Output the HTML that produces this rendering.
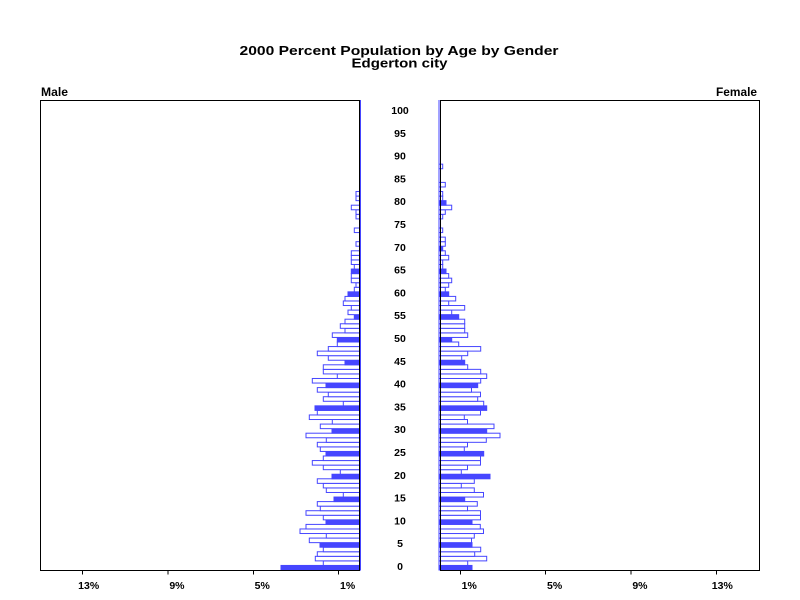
<!DOCTYPE html>
<html><head><meta charset="utf-8"><style>
html,body{margin:0;padding:0;background:#fff;width:800px;height:600px;overflow:hidden}
svg{display:block}
text{font-family:"Liberation Sans",Arial,sans-serif;font-weight:bold;fill:#000}
.o{fill:#fff;stroke:#4646ff;stroke-width:1}
.f{fill:#4646ff;stroke:#4646ff;stroke-width:1}
</style></head><body>
<svg width="800" height="600" viewBox="0 0 800 600" xmlns="http://www.w3.org/2000/svg">
<rect width="800" height="600" fill="#fff"/>
<text x="399" y="55" font-size="13" text-anchor="middle" textLength="319" lengthAdjust="spacingAndGlyphs">2000 Percent Population by Age by Gender</text>
<text x="399.5" y="67.5" font-size="13" text-anchor="middle" textLength="96" lengthAdjust="spacingAndGlyphs">Edgerton city</text>
<text x="41" y="96" font-size="11.5" textLength="27" lengthAdjust="spacingAndGlyphs">Male</text>
<text x="757" y="96" font-size="11.5" text-anchor="end" textLength="41" lengthAdjust="spacingAndGlyphs">Female</text>

<!-- Male bars -->
<g>
<rect class="f" x="281" y="565.44" width="79.5" height="4.56"/>
<rect class="o" x="323.3" y="560.88" width="37.2" height="4.56"/>
<rect class="o" x="315.3" y="556.32" width="45.2" height="4.56"/>
<rect class="o" x="317.3" y="551.76" width="43.2" height="4.56"/>
<rect class="o" x="323.3" y="547.20" width="37.2" height="4.56"/>
<rect class="f" x="320" y="542.64" width="40.5" height="4.56"/>
<rect class="o" x="309.3" y="538.08" width="51.2" height="4.56"/>
<rect class="o" x="326.3" y="533.52" width="34.2" height="4.56"/>
<rect class="o" x="300" y="528.96" width="60.5" height="4.56"/>
<rect class="o" x="306" y="524.40" width="54.5" height="4.56"/>
<rect class="f" x="326" y="519.84" width="34.5" height="4.56"/>
<rect class="o" x="323.3" y="515.28" width="37.2" height="4.56"/>
<rect class="o" x="306" y="510.72" width="54.5" height="4.56"/>
<rect class="o" x="320.3" y="506.16" width="40.2" height="4.56"/>
<rect class="o" x="317.3" y="501.60" width="43.2" height="4.56"/>
<rect class="f" x="334" y="497.04" width="26.5" height="4.56"/>
<rect class="o" x="343.3" y="492.48" width="17.2" height="4.56"/>
<rect class="o" x="326.3" y="487.92" width="34.2" height="4.56"/>
<rect class="o" x="323.3" y="483.36" width="37.2" height="4.56"/>
<rect class="o" x="317.3" y="478.80" width="43.2" height="4.56"/>
<rect class="f" x="332" y="474.24" width="28.5" height="4.56"/>
<rect class="o" x="340.3" y="469.68" width="20.2" height="4.56"/>
<rect class="o" x="323.3" y="465.12" width="37.2" height="4.56"/>
<rect class="o" x="312.3" y="460.56" width="48.2" height="4.56"/>
<rect class="o" x="323.3" y="456.00" width="37.2" height="4.56"/>
<rect class="f" x="326" y="451.44" width="34.5" height="4.56"/>
<rect class="o" x="320.3" y="446.88" width="40.2" height="4.56"/>
<rect class="o" x="317.3" y="442.32" width="43.2" height="4.56"/>
<rect class="o" x="326.3" y="437.76" width="34.2" height="4.56"/>
<rect class="o" x="306" y="433.20" width="54.5" height="4.56"/>
<rect class="f" x="332" y="428.64" width="28.5" height="4.56"/>
<rect class="o" x="320.3" y="424.08" width="40.2" height="4.56"/>
<rect class="o" x="332.3" y="419.52" width="28.2" height="4.56"/>
<rect class="o" x="309.3" y="414.96" width="51.2" height="4.56"/>
<rect class="o" x="317.3" y="410.40" width="43.2" height="4.56"/>
<rect class="f" x="315" y="405.84" width="45.5" height="4.56"/>
<rect class="o" x="343.3" y="401.28" width="17.2" height="4.56"/>
<rect class="o" x="323.3" y="396.72" width="37.2" height="4.56"/>
<rect class="o" x="328.3" y="392.16" width="32.2" height="4.56"/>
<rect class="o" x="317.3" y="387.60" width="43.2" height="4.56"/>
<rect class="f" x="326" y="383.04" width="34.5" height="4.56"/>
<rect class="o" x="312.3" y="378.48" width="48.2" height="4.56"/>
<rect class="o" x="337.3" y="373.92" width="23.2" height="4.56"/>
<rect class="o" x="323.3" y="369.36" width="37.2" height="4.56"/>
<rect class="o" x="323.3" y="364.80" width="37.2" height="4.56"/>
<rect class="f" x="345" y="360.24" width="15.5" height="4.56"/>
<rect class="o" x="328.3" y="355.68" width="32.2" height="4.56"/>
<rect class="o" x="317.3" y="351.12" width="43.2" height="4.56"/>
<rect class="o" x="328.3" y="346.56" width="32.2" height="4.56"/>
<rect class="o" x="337.3" y="342.00" width="23.2" height="4.56"/>
<rect class="f" x="337.3" y="337.44" width="23.2" height="4.56"/>
<rect class="o" x="332.3" y="332.88" width="28.2" height="4.56"/>
<rect class="o" x="345" y="328.32" width="15.5" height="4.56"/>
<rect class="o" x="340.3" y="323.76" width="20.2" height="4.56"/>
<rect class="o" x="345" y="319.20" width="15.5" height="4.56"/>
<rect class="f" x="354.3" y="314.64" width="6.2" height="4.56"/>
<rect class="o" x="348" y="310.08" width="12.5" height="4.56"/>
<rect class="o" x="351.3" y="305.52" width="9.2" height="4.56"/>
<rect class="o" x="343.3" y="300.96" width="17.2" height="4.56"/>
<rect class="o" x="345" y="296.40" width="15.5" height="4.56"/>
<rect class="f" x="348" y="291.84" width="12.5" height="4.56"/>
<rect class="o" x="354.3" y="287.28" width="6.2" height="4.56"/>
<rect class="o" x="356" y="282.72" width="4.5" height="4.56"/>
<rect class="o" x="351.3" y="278.16" width="9.2" height="4.56"/>
<rect class="o" x="351.3" y="273.60" width="9.2" height="4.56"/>
<rect class="f" x="351.3" y="269.04" width="9.2" height="4.56"/>
<rect class="o" x="354.3" y="264.48" width="6.2" height="4.56"/>
<rect class="o" x="351.3" y="259.92" width="9.2" height="4.56"/>
<rect class="o" x="351.3" y="255.36" width="9.2" height="4.56"/>
<rect class="o" x="351.3" y="250.80" width="9.2" height="4.56"/>
<rect class="o" x="356" y="241.68" width="4.5" height="4.56"/>
<rect class="o" x="354.3" y="228.00" width="6.2" height="4.56"/>
<rect class="o" x="356" y="214.32" width="4.5" height="4.56"/>
<rect class="o" x="356" y="209.76" width="4.5" height="4.56"/>
<rect class="o" x="351.3" y="205.20" width="9.2" height="4.56"/>
<rect class="o" x="356" y="196.08" width="4.5" height="4.56"/>
<rect class="o" x="356" y="191.52" width="4.5" height="4.56"/>
</g>

<!-- Female bars -->
<g>
<rect class="f" x="439" y="565.44" width="33" height="4.56"/>
<rect class="o" x="439" y="560.88" width="28.7" height="4.56"/>
<rect class="o" x="439" y="556.32" width="47.7" height="4.56"/>
<rect class="o" x="439" y="551.76" width="35.7" height="4.56"/>
<rect class="o" x="439" y="547.20" width="41.7" height="4.56"/>
<rect class="f" x="439" y="542.64" width="33" height="4.56"/>
<rect class="o" x="439" y="538.08" width="32.5" height="4.56"/>
<rect class="o" x="439" y="533.52" width="35.3" height="4.56"/>
<rect class="o" x="439" y="528.96" width="44.5" height="4.56"/>
<rect class="o" x="439" y="524.40" width="41.3" height="4.56"/>
<rect class="f" x="439" y="519.84" width="33" height="4.56"/>
<rect class="o" x="439" y="515.28" width="41.5" height="4.56"/>
<rect class="o" x="439" y="510.72" width="41.5" height="4.56"/>
<rect class="o" x="439" y="506.16" width="28.5" height="4.56"/>
<rect class="o" x="439" y="501.60" width="38.3" height="4.56"/>
<rect class="f" x="439" y="497.04" width="25.7" height="4.56"/>
<rect class="o" x="439" y="492.48" width="44.5" height="4.56"/>
<rect class="o" x="439" y="487.92" width="35.3" height="4.56"/>
<rect class="o" x="439" y="483.36" width="22.3" height="4.56"/>
<rect class="o" x="439" y="478.80" width="35.3" height="4.56"/>
<rect class="f" x="439" y="474.24" width="51" height="4.56"/>
<rect class="o" x="439" y="469.68" width="22.3" height="4.56"/>
<rect class="o" x="439" y="465.12" width="28.5" height="4.56"/>
<rect class="o" x="439" y="460.56" width="41.5" height="4.56"/>
<rect class="o" x="439" y="456.00" width="41.5" height="4.56"/>
<rect class="f" x="439" y="451.44" width="44.7" height="4.56"/>
<rect class="o" x="439" y="446.88" width="25.3" height="4.56"/>
<rect class="o" x="439" y="442.32" width="28.5" height="4.56"/>
<rect class="o" x="439" y="437.76" width="47.3" height="4.56"/>
<rect class="o" x="439" y="433.20" width="61" height="4.56"/>
<rect class="f" x="439" y="428.64" width="47.7" height="4.56"/>
<rect class="o" x="439" y="424.08" width="55" height="4.56"/>
<rect class="o" x="439" y="419.52" width="28.5" height="4.56"/>
<rect class="o" x="439" y="414.96" width="25.3" height="4.56"/>
<rect class="o" x="439" y="410.40" width="41.5" height="4.56"/>
<rect class="f" x="439" y="405.84" width="47.7" height="4.56"/>
<rect class="o" x="439" y="401.28" width="44.7" height="4.56"/>
<rect class="o" x="439" y="396.72" width="38.7" height="4.56"/>
<rect class="o" x="439" y="392.16" width="41.5" height="4.56"/>
<rect class="o" x="439" y="387.60" width="32.5" height="4.56"/>
<rect class="f" x="439" y="383.04" width="38.7" height="4.56"/>
<rect class="o" x="439" y="378.48" width="41.7" height="4.56"/>
<rect class="o" x="439" y="373.92" width="47.7" height="4.56"/>
<rect class="o" x="439" y="369.36" width="41.7" height="4.56"/>
<rect class="o" x="439" y="364.80" width="28.7" height="4.56"/>
<rect class="f" x="439" y="360.24" width="25.7" height="4.56"/>
<rect class="o" x="439" y="355.68" width="22.7" height="4.56"/>
<rect class="o" x="439" y="351.12" width="28.7" height="4.56"/>
<rect class="o" x="439" y="346.56" width="41.7" height="4.56"/>
<rect class="o" x="439" y="342.00" width="19.7" height="4.56"/>
<rect class="f" x="439" y="337.44" width="12.7" height="4.56"/>
<rect class="o" x="439" y="332.88" width="28.7" height="4.56"/>
<rect class="o" x="439" y="328.32" width="25.7" height="4.56"/>
<rect class="o" x="439" y="323.76" width="25.7" height="4.56"/>
<rect class="o" x="439" y="319.20" width="25.7" height="4.56"/>
<rect class="f" x="439" y="314.64" width="19.7" height="4.56"/>
<rect class="o" x="439" y="310.08" width="12.7" height="4.56"/>
<rect class="o" x="439" y="305.52" width="25.7" height="4.56"/>
<rect class="o" x="439" y="300.96" width="9.7" height="4.56"/>
<rect class="o" x="439" y="296.40" width="16.7" height="4.56"/>
<rect class="f" x="439" y="291.84" width="9.7" height="4.56"/>
<rect class="o" x="439" y="287.28" width="6.3" height="4.56"/>
<rect class="o" x="439" y="282.72" width="9.7" height="4.56"/>
<rect class="o" x="439" y="278.16" width="12.7" height="4.56"/>
<rect class="o" x="439" y="273.60" width="9.7" height="4.56"/>
<rect class="f" x="439" y="269.04" width="7" height="4.56"/>
<rect class="o" x="439" y="264.48" width="3.7" height="4.56"/>
<rect class="o" x="439" y="259.92" width="3.7" height="4.56"/>
<rect class="o" x="439" y="255.36" width="9.7" height="4.56"/>
<rect class="o" x="439" y="250.80" width="6.3" height="4.56"/>
<rect class="f" x="439" y="246.24" width="3.7" height="4.56"/>
<rect class="o" x="439" y="241.68" width="6.3" height="4.56"/>
<rect class="o" x="439" y="237.12" width="6.3" height="4.56"/>
<rect class="o" x="439" y="228.00" width="3.7" height="4.56"/>
<rect class="o" x="439" y="214.32" width="3.7" height="4.56"/>
<rect class="o" x="439" y="209.76" width="6.3" height="4.56"/>
<rect class="o" x="439" y="205.20" width="12.7" height="4.56"/>
<rect class="f" x="439" y="200.64" width="7" height="4.56"/>
<rect class="o" x="439" y="196.08" width="3.7" height="4.56"/>
<rect class="o" x="439" y="191.52" width="3.7" height="4.56"/>
<rect class="o" x="439" y="182.40" width="6.3" height="4.56"/>
<rect class="o" x="439" y="164.16" width="3.7" height="4.56"/>
</g>

<!-- zero lines (zero-width bars) -->
<line x1="360.5" y1="100" x2="360.5" y2="570.5" stroke="#4646ff" stroke-width="1"/>
<line x1="439" y1="100" x2="439" y2="570.5" stroke="#4646ff" stroke-width="1"/>

<!-- frames -->
<g fill="none" stroke="#000" stroke-width="1" shape-rendering="crispEdges">
<rect x="40.5" y="100.5" width="319" height="470"/>
<rect x="440.5" y="100.5" width="319" height="470"/>
<path d="M82.7 570.5V574.5M168 570.5V574.5M253.3 570.5V574.5M338.7 570.5V574.5M460.3 570.5V574.5M545.7 570.5V574.5M631 570.5V574.5M716.3 570.5V574.5"/>
</g>

<!-- x tick labels -->
<g font-size="10.5" text-anchor="end">
<text x="99.2" y="589">13%</text>
<text x="184.5" y="589">9%</text>
<text x="269.8" y="589">5%</text>
<text x="355.2" y="589">1%</text>
<text x="476.8" y="589">1%</text>
<text x="562.2" y="589">5%</text>
<text x="647.5" y="589">9%</text>
<text x="732.8" y="589">13%</text>
</g>

<!-- age labels -->
<g font-size="10.5" text-anchor="middle">
<text x="400" y="114">100</text>
<text x="400" y="136.8">95</text>
<text x="400" y="159.6">90</text>
<text x="400" y="182.4">85</text>
<text x="400" y="205.2">80</text>
<text x="400" y="228">75</text>
<text x="400" y="250.8">70</text>
<text x="400" y="273.6">65</text>
<text x="400" y="296.4">60</text>
<text x="400" y="319.2">55</text>
<text x="400" y="342">50</text>
<text x="400" y="364.8">45</text>
<text x="400" y="387.6">40</text>
<text x="400" y="410.4">35</text>
<text x="400" y="433.2">30</text>
<text x="400" y="456">25</text>
<text x="400" y="478.8">20</text>
<text x="400" y="501.6">15</text>
<text x="400" y="524.4">10</text>
<text x="400" y="547.2">5</text>
<text x="400" y="570">0</text>
</g>
</svg>
</body></html>
